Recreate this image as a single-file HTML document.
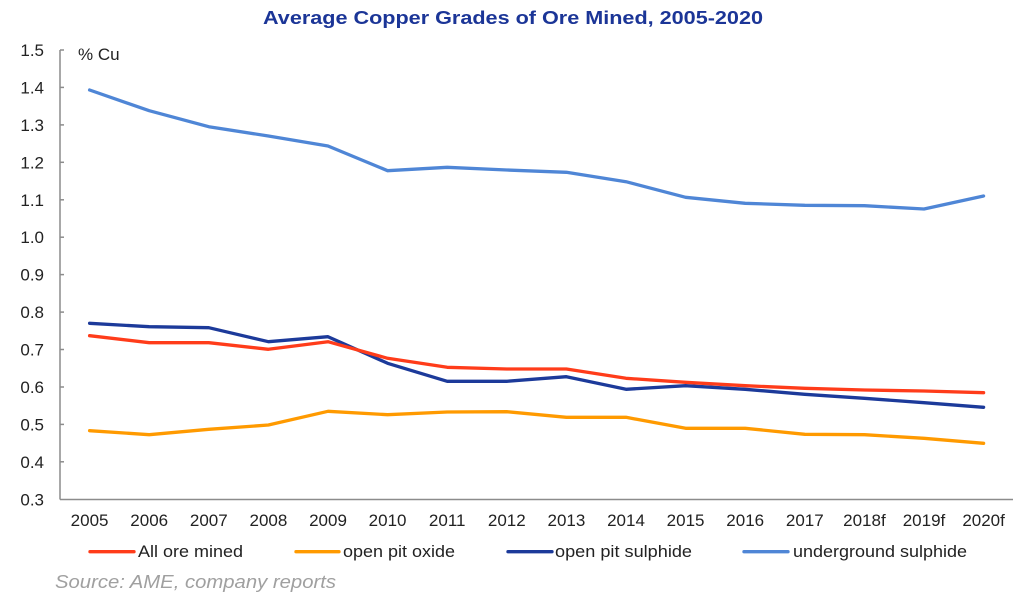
<!DOCTYPE html>
<html><head><meta charset="utf-8"><style>
html,body{margin:0;padding:0;background:#fff;}
svg{display:block;}
text{font-family:"Liberation Sans",Arial,sans-serif;}
</style></head><body>
<svg width="1024" height="601" viewBox="0 0 1024 601" xmlns="http://www.w3.org/2000/svg">
<rect width="1024" height="601" fill="#fff"/>
<text x="513" y="24" text-anchor="middle" font-size="18.5" font-weight="bold" fill="#1b3597" textLength="500" lengthAdjust="spacingAndGlyphs">Average Copper Grades of Ore Mined, 2005-2020</text>
<!-- axes -->
<g stroke="#8c8c8c" stroke-width="1.5" fill="none">
<line x1="60" y1="50" x2="60" y2="499.5"/>
<line x1="60" y1="499.5" x2="1013" y2="499.5"/>
<line x1="60" y1="50" x2="64" y2="50"/>
<line x1="60" y1="87.4" x2="64" y2="87.4"/>
<line x1="60" y1="124.9" x2="64" y2="124.9"/>
<line x1="60" y1="162.3" x2="64" y2="162.3"/>
<line x1="60" y1="199.8" x2="64" y2="199.8"/>
<line x1="60" y1="237.2" x2="64" y2="237.2"/>
<line x1="60" y1="274.6" x2="64" y2="274.6"/>
<line x1="60" y1="312.1" x2="64" y2="312.1"/>
<line x1="60" y1="349.5" x2="64" y2="349.5"/>
<line x1="60" y1="387" x2="64" y2="387"/>
<line x1="60" y1="424.4" x2="64" y2="424.4"/>
<line x1="60" y1="461.8" x2="64" y2="461.8"/>
</g>
<g font-size="17" fill="#222" text-anchor="end">
<text x="44" y="56">1.5</text>
<text x="44" y="93.4">1.4</text>
<text x="44" y="130.9">1.3</text>
<text x="44" y="168.3">1.2</text>
<text x="44" y="205.8">1.1</text>
<text x="44" y="243.2">1.0</text>
<text x="44" y="280.6">0.9</text>
<text x="44" y="318.1">0.8</text>
<text x="44" y="355.5">0.7</text>
<text x="44" y="393">0.6</text>
<text x="44" y="430.4">0.5</text>
<text x="44" y="467.8">0.4</text>
<text x="44" y="505.3">0.3</text>
</g>
<text x="78" y="60" font-size="17" fill="#222">% Cu</text>
<g font-size="17" fill="#222" text-anchor="middle">
<text x="89.6" y="526">2005</text>
<text x="149.2" y="526">2006</text>
<text x="208.8" y="526">2007</text>
<text x="268.4" y="526">2008</text>
<text x="328" y="526">2009</text>
<text x="387.6" y="526">2010</text>
<text x="447.2" y="526">2011</text>
<text x="506.8" y="526">2012</text>
<text x="566.4" y="526">2013</text>
<text x="626" y="526">2014</text>
<text x="685.6" y="526">2015</text>
<text x="745.2" y="526">2016</text>
<text x="804.8" y="526">2017</text>
<text x="864.4" y="526">2018f</text>
<text x="924" y="526">2019f</text>
<text x="983.6" y="526">2020f</text>
</g>
<!-- series -->
<g fill="none" stroke-width="3.3" stroke-linejoin="round" stroke-linecap="round">
<polyline stroke="#ff9a00" points="89.6,430.7 149.2,434.7 208.8,429.3 268.4,425 328,411.3 387.6,414.7 447.2,412 506.8,411.7 566.4,417.3 626,417.3 685.6,428.3 745.2,428.3 804.8,434.3 864.4,434.7 924,438.3 983.6,443.3"/>
<polyline stroke="#1c3a9a" points="89.6,323.3 149.2,326.7 208.8,327.7 268.4,341.7 328,336.7 387.6,363.3 447.2,381.3 506.8,381.3 566.4,376.7 626,389.3 685.6,385.7 745.2,389.3 804.8,394.3 864.4,398.3 924,402.7 983.6,407.3"/>
<polyline stroke="#ff3c1a" points="89.6,335.7 149.2,342.7 208.8,342.7 268.4,349.3 328,341.7 387.6,358.3 447.2,367.3 506.8,369 566.4,369 626,378.3 685.6,382.3 745.2,385.7 804.8,388.3 864.4,390 924,391 983.6,392.7"/>
<polyline stroke="#4f86d6" points="89.6,90 149.2,110.7 208.8,126.7 268.4,136 328,146 387.6,170.7 447.2,167.3 506.8,170 566.4,172.3 626,181.7 685.6,197.3 745.2,203.3 804.8,205.3 864.4,205.7 924,209 983.6,196"/>
</g>
<!-- legend -->
<g stroke-width="3.3" stroke-linecap="round">
<line x1="90" y1="551.7" x2="134" y2="551.7" stroke="#ff3c1a"/>
<line x1="296" y1="551.7" x2="339" y2="551.7" stroke="#ff9a00"/>
<line x1="508" y1="551.7" x2="552" y2="551.7" stroke="#1c3a9a"/>
<line x1="744" y1="551.7" x2="788" y2="551.7" stroke="#4f86d6"/>
</g>
<g font-size="17" fill="#222">
<text x="138" y="557" textLength="105" lengthAdjust="spacingAndGlyphs">All ore mined</text>
<text x="343" y="557" textLength="112" lengthAdjust="spacingAndGlyphs">open pit oxide</text>
<text x="555" y="557" textLength="137" lengthAdjust="spacingAndGlyphs">open pit sulphide</text>
<text x="793" y="557" textLength="174" lengthAdjust="spacingAndGlyphs">underground sulphide</text>
</g>
<text x="55" y="588" font-size="18" font-style="italic" fill="#a0a0a0" textLength="281" lengthAdjust="spacingAndGlyphs">Source: AME, company reports</text>
</svg>
</body></html>
